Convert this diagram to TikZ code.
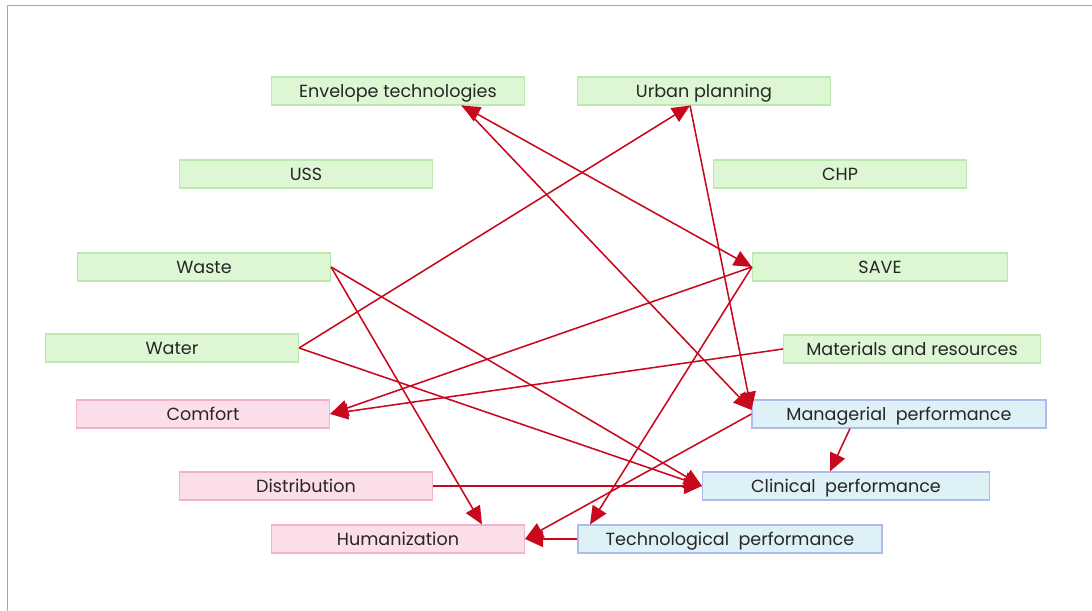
\documentclass[tikz,border=0pt]{standalone}
\usepackage{fontspec}
\setmainfont{Poppins}
\usepackage{tikz}
\usetikzlibrary{arrows.meta,positioning}
\definecolor{envgreen}{HTML}{DDF7D4}
\definecolor{envgreenline}{HTML}{BDE9B0}
\definecolor{userpink}{HTML}{FCDDEA}
\definecolor{userpinkline}{HTML}{F2B3CD}
\definecolor{perfblue}{HTML}{DDF1F6}
\definecolor{perfblueline}{HTML}{AFBBEA}
\definecolor{linkred}{HTML}{C8081C}
\definecolor{textgray}{HTML}{262626}
\definecolor{framegray}{HTML}{A6A6A6}

\begin{document}
\begin{tikzpicture}[
  box/.style={draw, rectangle, minimum width=6.325cm, minimum height=0.7cm,
              font=\fontsize{12.5}{14}\selectfont, text=textgray, inner sep=0pt,
              text height=2ex, text depth=0.3ex, line width=0.8pt},
  green/.style={box, fill=envgreen, draw=envgreenline},
  pink/.style={box, fill=userpink, draw=userpinkline},
  blue/.style={box, fill=perfblue, draw=perfblueline},
  arr/.style={-{Triangle[length=4.5mm,width=4mm]}, linkred, line width=1.1pt},
  darr/.style={{Triangle[length=4.5mm,width=4mm]}-{Triangle[length=4.5mm,width=4mm]}, linkred, line width=1.1pt}
]
  \useasboundingbox (0,0) rectangle (27.3,15.275);
  \draw[framegray, line width=0.6pt] (0.175,0) -- (0.175,15.15) -- (27.3,15.15);

  %% Environment
  \node[green] (env) at (9.95,13.0) {Envelope technologies};
  \node[green] (urban) at (17.6,13.0) {Urban planning};
  \node[green] (uss) at (7.65,10.925) {USS};
  \node[green] (chp) at (21.0,10.925) {CHP};
  \node[green] (waste) at (5.1,8.6) {Waste};
  \node[green, minimum width=6.375cm] (save) at (22.0,8.6) {SAVE};
  \node[green] (water) at (4.3,6.575) {Water};
  \node[green, minimum width=6.425cm] (mat) at (22.8,6.55) {Materials and resources};

  %% Users
  \node[pink] (comfort) at (5.075,4.925) {Comfort};
  \node[pink] (distr) at (7.65,3.125) {Distribution};
  \node[pink] (human) at (9.95,1.8) {Humanization};

  %% Performances
  \node[blue, minimum width=7.35cm] (manag) at (22.475,4.925) {Managerial\ \ performance};
  \node[blue, minimum width=7.175cm] (clin) at (21.15,3.125) {Clinical\ \ performance};
  \node[blue, minimum width=7.6cm] (tech) at (18.25,1.8) {Technological\ \ performance};

  %% Links
  \draw[arr] (water.east) -- ([xshift=-3.5mm]urban.south);
  \draw[arr] (water.east) -- (clin.west);
  \draw[arr] (waste.east) -- ([xshift=21mm]human.north);
  \draw[arr] (waste.east) -- (clin.west);
  \draw[darr] ([xshift=16mm]env.south) -- (save.west);
  \draw[arr] ([xshift=16mm]env.south) -- ([yshift=1mm]manag.west);
  \draw[arr] ([xshift=-3.5mm]urban.south) -- ([yshift=1mm]manag.west);
  \draw[arr] (save.west) -- (comfort.east);
  \draw[arr] (mat.west) -- (comfort.east);
  \draw[arr] (save.west) -- ([xshift=-35mm]tech.north);
  \draw[arr] (manag.west) -- (human.east);
  \draw[arr] (tech.west) -- (human.east);
  \draw[arr] ([xshift=-12.25mm]manag.south) -- ([xshift=-4mm]clin.north);
  \draw[arr] (distr.east) -- (clin.west);
\end{tikzpicture}
\end{document}
